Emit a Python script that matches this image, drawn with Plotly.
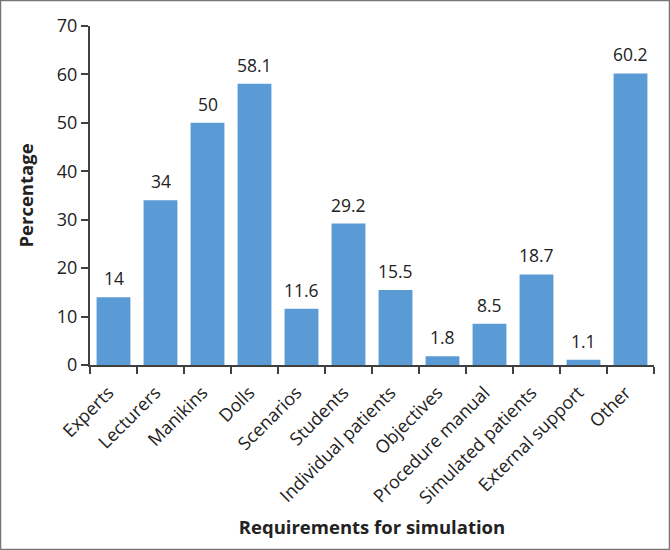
import plotly.graph_objects as go

categories = ["Experts", "Lecturers", "Manikins", "Dolls", "Scenarios", "Students",
              "Individual patients", "Objectives", "Procedure manual",
              "Simulated patients", "External support", "Other"]
values = [14, 34, 50, 58.1, 11.6, 29.2, 15.5, 1.8, 8.5, 18.7, 1.1, 60.2]
labels = ["14", "34", "50", "58.1", "11.6", "29.2", "15.5", "1.8", "8.5", "18.7", "1.1", "60.2"]

W, H = 670, 550
ml, mr, mt, mb = 90, 16, 26, 185
pw, ph = W - ml - mr, H - mt - mb

fig = go.Figure(go.Bar(
    x=categories, y=values,
    marker=dict(color="#5B9BD5", line=dict(width=0)),
))

for c, v, t in zip(categories, values, labels):
    fig.add_annotation(x=c, y=v, text=t, showarrow=False, yanchor="bottom", yshift=5,
                       font=dict(family="Open Sans", size=17.5, color="#222222"))

axis_font = dict(family="Open Sans", size=18, color="#222222")
title_font = dict(family="Open Sans", size=18.5, color="#222222")
fig.update_layout(
    width=W, height=H, margin=dict(l=ml, r=mr, t=mt, b=mb),
    paper_bgcolor="white", plot_bgcolor="white",
    font=dict(family="Open Sans", color="#222222"),
    bargap=0.28, showlegend=False,
    xaxis=dict(tickangle=-45, tickfont=axis_font, showline=True, linecolor="#404040",
               linewidth=2, ticks="outside", tickson="boundaries", ticklen=7,
               tickcolor="#404040", tickwidth=2, showgrid=False, automargin=False,
               ticklabelstandoff=8, ticklabelshift=-5,
               title=dict(text="<b>Requirements for simulation</b>",
                          font=title_font, standoff=14)),
    yaxis=dict(range=[0, 70], dtick=10, tickfont=axis_font, showline=True, linecolor="#404040",
               linewidth=2, ticks="outside", ticklen=7, tickcolor="#404040", tickwidth=2,
               showgrid=False, zeroline=False, automargin=False,
               title=dict(text="<b>Percentage</b>", font=title_font, standoff=18)),
    shapes=[dict(type="rect", xref="paper", yref="paper",
                 x0=(0.5 - ml) / pw, x1=(W - 0.5 - ml) / pw,
                 y0=(0.5 - mb) / ph, y1=(H - 0.5 - mb) / ph,
                 line=dict(color="#777777", width=1.5))],
)

fig.write_html("out.html", config={"displayModeBar": False},
               post_script="document.body.style.margin='0';")
